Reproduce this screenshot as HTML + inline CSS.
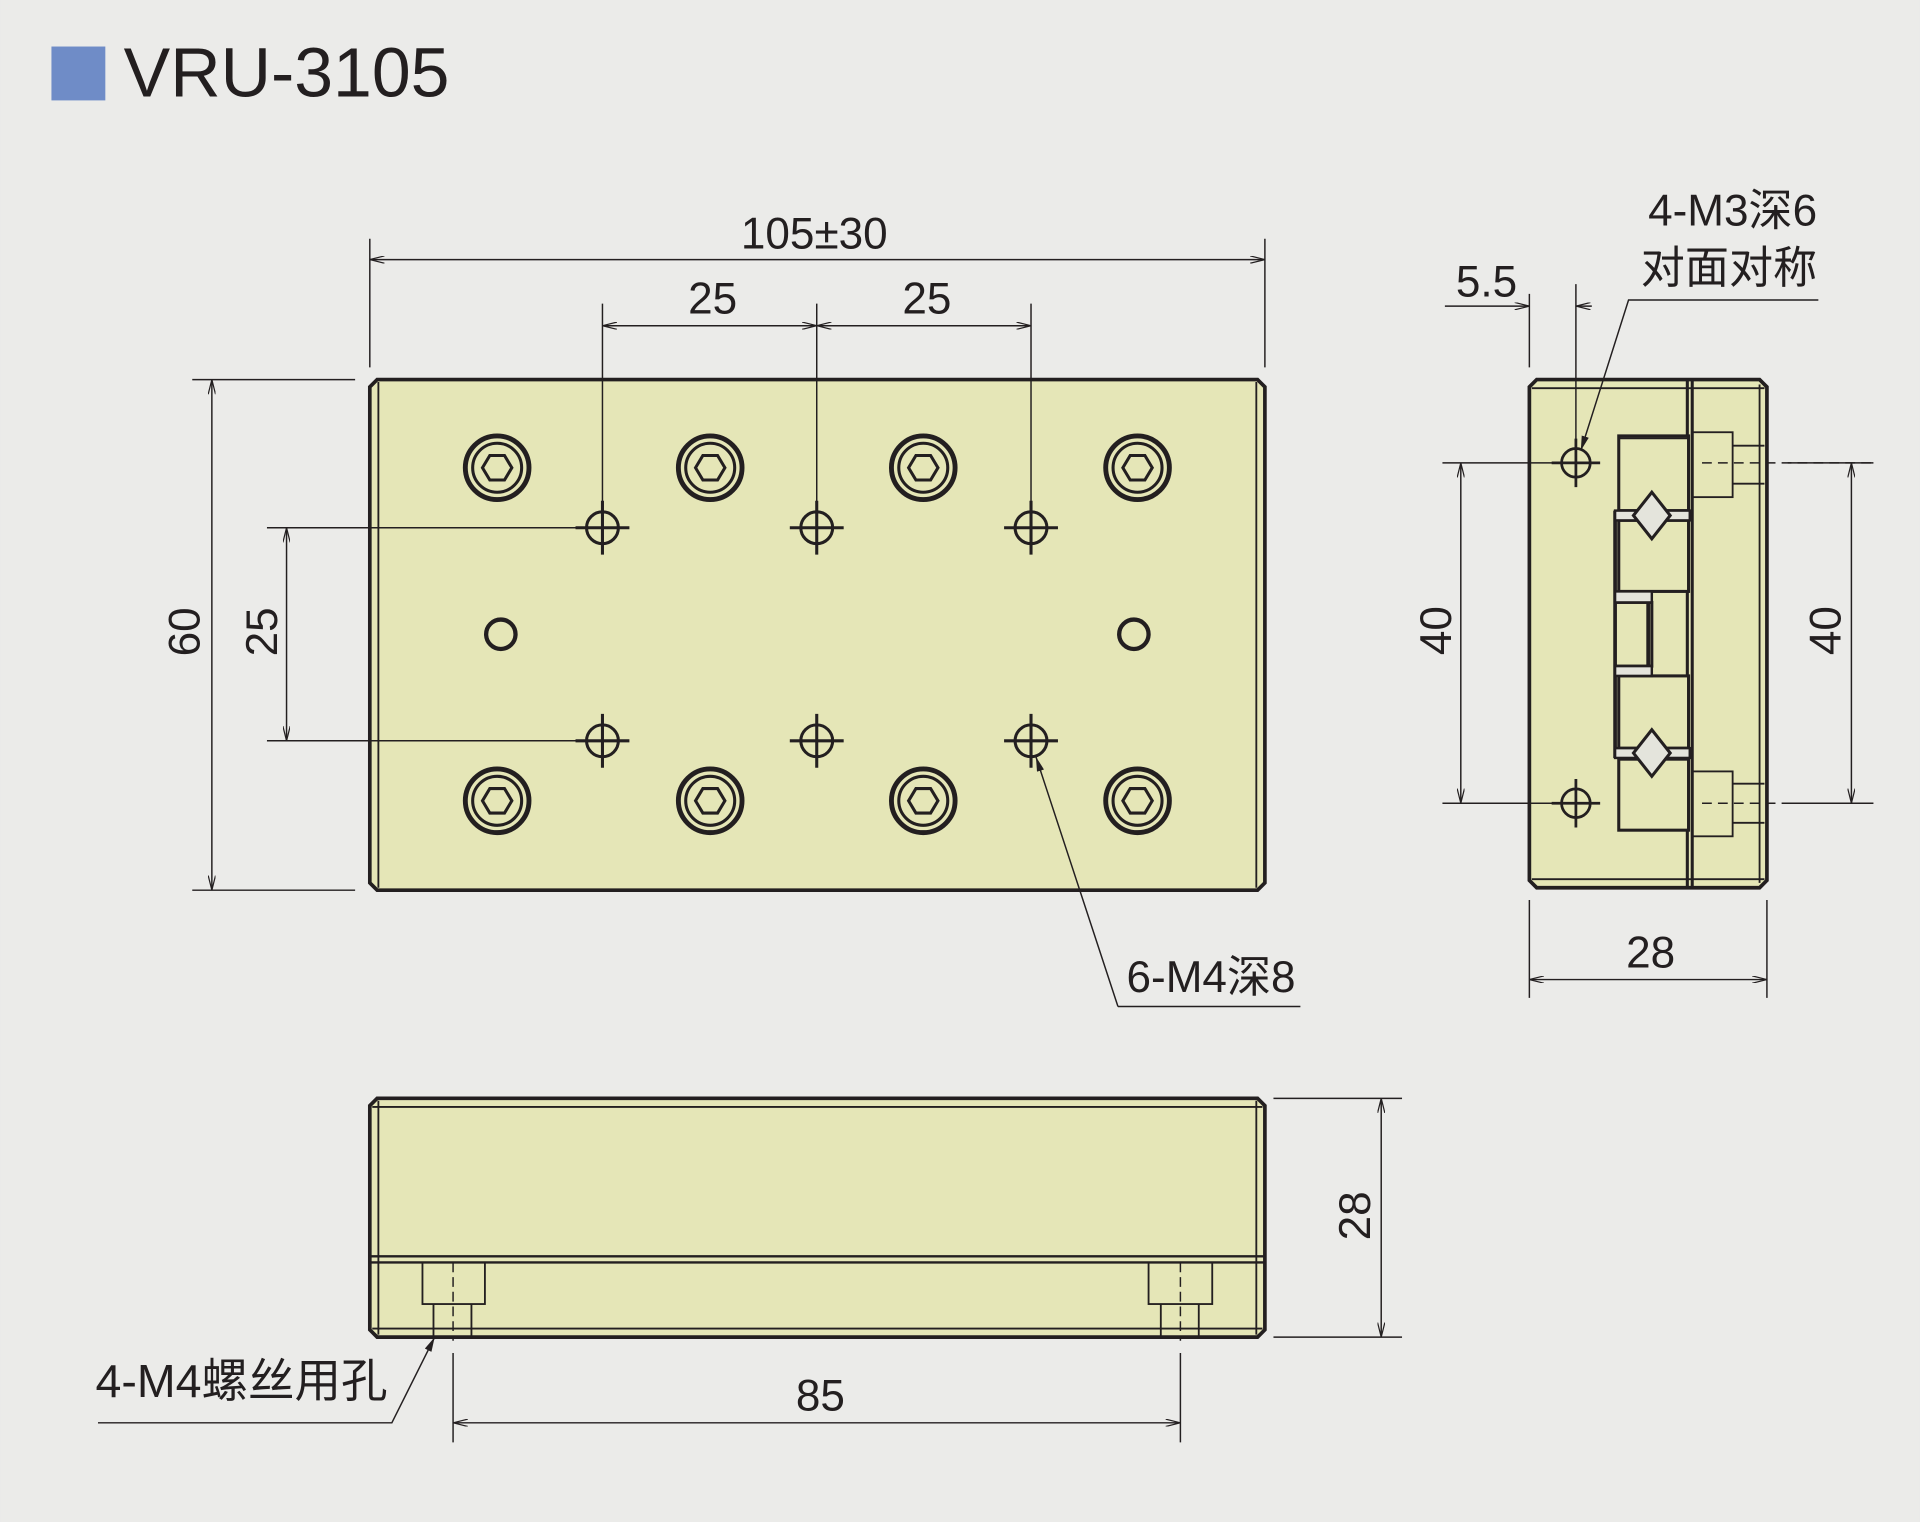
<!DOCTYPE html>
<html><head><meta charset="utf-8"><style>
html,body{margin:0;padding:0;background:#ebebe9;}
svg{display:block;}
text{font-family:"Liberation Sans","Noto Sans CJK SC",sans-serif;fill:#231f20;}
</style></head><body>
<svg width="1920" height="1522" viewBox="0 0 1568 1243" xmlns="http://www.w3.org/2000/svg">
<defs>
<marker id="a" viewBox="0 0 12 6" refX="12" refY="3" markerWidth="12" markerHeight="6" orient="auto-start-reverse" markerUnits="userSpaceOnUse"><path d="M0,0 L12,3 L0,6" fill="none" stroke="#231f20" stroke-width="1"/></marker>
<marker id="f" viewBox="0 0 12 6" refX="12" refY="3" markerWidth="12" markerHeight="6" orient="auto" markerUnits="userSpaceOnUse"><path d="M0,0 L12,3 L0,6z" fill="#231f20"/></marker>
<g id="scr"><circle r="26" fill="none" stroke="#231f20" stroke-width="4"/><circle r="20" fill="none" stroke="#231f20" stroke-width="2.5"/><polygon points="-12,0 -6,-10 6,-10 12,0 6,10 -6,10" fill="none" stroke="#231f20" stroke-width="2.5"/></g>
<g id="hole"><circle r="13" fill="none" stroke="#231f20" stroke-width="2.5"/><path d="M-22,0H22M0,-22V22" stroke="#231f20" stroke-width="2.5"/></g>
</defs>
<rect width="1568" height="1243" fill="#ebebe9"/>
<rect x="42" y="38" width="44" height="44" fill="#6f8cc7"/>
<text x="101" y="79" font-size="57">VRU-3105</text>

<g stroke="#231f20" fill="none">
<path d="M308,310H1027L1033,316V721L1027,727H308L302,721V316Z" fill="#e5e6b7" stroke-width="3"/>
<path d="M309,312V725M1026,312V725" stroke-width="1.5"/>
<g stroke-width="1.2">
<path d="M302,195V300M1033,195V300"/>
<path d="M302,212H1033" marker-start="url(#a)" marker-end="url(#a)"/>
<path d="M492,248V450M667,248V450M842,248V450"/>
<path d="M492,266H667" marker-start="url(#a)" marker-end="url(#a)"/>
<path d="M667,266H842" marker-start="url(#a)" marker-end="url(#a)"/>
<path d="M157,310H290M157,727H290"/>
<path d="M173,310V727" marker-start="url(#a)" marker-end="url(#a)"/>
<path d="M218,431H475M218,605H475"/>
<path d="M234,431V605" marker-start="url(#a)" marker-end="url(#a)"/>
<path d="M913,822H1062M913,822L846,618" marker-end="url(#f)"/>
</g>
</g>
<use href="#scr" x="406" y="382"/><use href="#scr" x="580" y="382"/><use href="#scr" x="754" y="382"/><use href="#scr" x="929" y="382"/>
<use href="#scr" x="406" y="654"/><use href="#scr" x="580" y="654"/><use href="#scr" x="754" y="654"/><use href="#scr" x="929" y="654"/>
<use href="#hole" x="492" y="431"/><use href="#hole" x="667" y="431"/><use href="#hole" x="842" y="431"/>
<use href="#hole" x="492" y="605"/><use href="#hole" x="667" y="605"/><use href="#hole" x="842" y="605"/>
<circle cx="409" cy="518" r="12" fill="none" stroke="#231f20" stroke-width="3.5"/>
<circle cx="926" cy="518" r="12" fill="none" stroke="#231f20" stroke-width="3.5"/>
<text x="665" y="203" font-size="36" text-anchor="middle">105±30</text>
<text x="582" y="256" font-size="36" text-anchor="middle">25</text>
<text x="757" y="256" font-size="36" text-anchor="middle">25</text>
<text transform="translate(163,516) rotate(-90)" font-size="36" text-anchor="middle">60</text>
<text transform="translate(226,516) rotate(-90)" font-size="36" text-anchor="middle">25</text>
<text x="920" y="810" font-size="36">6-M4深8</text>

<g stroke="#231f20" fill="none">
<path d="M1255,310H1437L1443,316V719L1437,725H1255L1249,719V316Z" fill="#e5e6b7" stroke-width="3"/>
<path d="M1251,317H1441M1251,718H1441M1437,314V721" stroke-width="1.5"/>
<path d="M1378,310V725M1382,310V725" stroke-width="2.5"/>
<g stroke-width="2.5" fill="#e5e6b7">
<rect x="1322" y="356" width="57" height="61"/>
<rect x="1322" y="425" width="57" height="58"/>
<rect x="1322" y="552" width="57" height="59"/>
<rect x="1322" y="620" width="57" height="58"/>
<rect x="1319" y="492" width="30" height="52"/>
</g>
<path d="M1319,417V619" stroke-width="3"/>
<path d="M1346,492V544" stroke-width="3"/>
<path d="M1322,358H1379" stroke-width="1.5"/>
<rect x="1319" y="417" width="61" height="8" fill="#e4e4dc" stroke-width="2"/>
<rect x="1319" y="611" width="61" height="8" fill="#e4e4dc" stroke-width="2"/>
<rect x="1319" y="483" width="30" height="9" fill="#e4e4dc" stroke-width="2"/>
<rect x="1319" y="544" width="30" height="8" fill="#e4e4dc" stroke-width="2"/>
<polygon points="1334,421 1349,402 1364,421 1349,440" fill="#e4e4dc" stroke-width="2.5"/>
<polygon points="1334,615 1349,596 1364,615 1349,634" fill="#e4e4dc" stroke-width="2.5"/>
<g stroke-width="1.5">
<rect x="1382" y="353" width="33" height="53"/>
<path d="M1415,364H1441M1415,395H1441"/>
<rect x="1382" y="630" width="33" height="53"/>
<path d="M1415,640H1441M1415,672H1441"/>
</g>
<path d="M1390,378H1530M1390,656H1530" stroke-width="1.2" stroke-dasharray="8,5"/>
<g stroke-width="1.2">
<path d="M1249,240V300M1287,232V370"/>
<path d="M1180,250H1249" marker-end="url(#a)"/>
<path d="M1287,250H1300" marker-start="url(#a)"/>
<path d="M1485,245H1330L1291,368" marker-end="url(#f)"/>
<path d="M1178,378H1272M1178,656H1272"/>
<path d="M1193,378V656" marker-start="url(#a)" marker-end="url(#a)"/>
<path d="M1460,378H1530M1460,656H1530"/>
<path d="M1512,378V656" marker-start="url(#a)" marker-end="url(#a)"/>
<path d="M1249,735V815M1443,735V815"/>
<path d="M1249,800H1443" marker-start="url(#a)" marker-end="url(#a)"/>
</g>
</g>
<use href="#hole" x="1287" y="378" transform="translate(1287,378) scale(0.9) translate(-1287,-378)"/>
<use href="#hole" x="1287" y="656" transform="translate(1287,656) scale(0.9) translate(-1287,-656)"/>
<text x="1214" y="242" font-size="36" text-anchor="middle">5.5</text>
<text x="1415" y="184" font-size="36" text-anchor="middle">4-M3深6</text>
<text x="1412" y="231" font-size="36" text-anchor="middle">对面对称</text>
<text transform="translate(1185,515) rotate(-90)" font-size="36" text-anchor="middle">40</text>
<text transform="translate(1503,515) rotate(-90)" font-size="36" text-anchor="middle">40</text>
<text x="1348" y="790" font-size="36" text-anchor="middle">28</text>

<g stroke="#231f20" fill="none">
<path d="M308,897H1027L1033,903V1086L1027,1092H308L302,1086V903Z" fill="#e5e6b7" stroke-width="3"/>
<path d="M309,899V1090M1026,899V1090M304,904H1031M304,1085H1031" stroke-width="1.5"/>
<path d="M302,1026H1033M302,1031H1033" stroke-width="2"/>
<g stroke-width="1.5">
<rect x="345" y="1031" width="51" height="34"/>
<path d="M354,1065V1092M385,1065V1092"/>
<rect x="938" y="1031" width="52" height="34"/>
<path d="M948,1065V1092M979,1065V1092"/>
</g>
<path d="M370,1031V1095M964,1031V1095" stroke-width="1.2" stroke-dasharray="8,4"/>
<g stroke-width="1.2">
<path d="M1040,897H1145M1040,1092H1145"/>
<path d="M1128,897V1092" marker-start="url(#a)" marker-end="url(#a)"/>
<path d="M370,1105V1178M964,1105V1178"/>
<path d="M370,1162H964" marker-start="url(#a)" marker-end="url(#a)"/>
<path d="M80,1162H320L355,1092" marker-end="url(#f)"/>
</g>
</g>
<text transform="translate(1119,993) rotate(-90)" font-size="36" text-anchor="middle">28</text>
<text x="670" y="1152" font-size="36" text-anchor="middle">85</text>
<text x="78" y="1141" font-size="38">4-M4螺丝用孔</text>
</svg>
</body></html>
